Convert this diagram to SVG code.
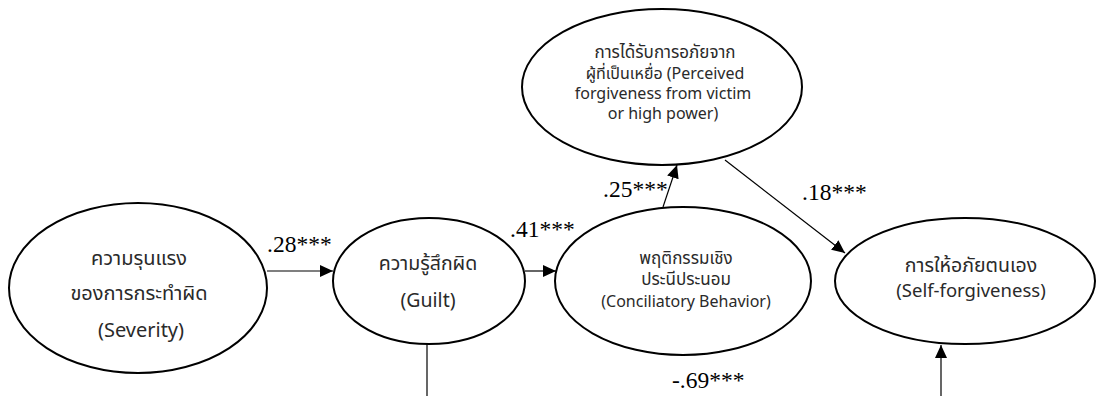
<svg xmlns="http://www.w3.org/2000/svg" width="1096" height="396" viewBox="0 0 1096 396">
<style>
.node{fill:#fff;stroke:#000;stroke-width:2}
.t{font-family:"Noto Sans Thai","Noto Sans","DejaVu Sans",sans-serif;fill:#2a2a2a;text-anchor:middle}
.lbl{font-family:"Liberation Serif","Times New Roman",serif;font-size:23.5px;fill:#000}
.edge{stroke:#000;stroke-width:1.2;fill:none}
</style>
<defs>
<marker id="ah" markerUnits="userSpaceOnUse" markerWidth="14" markerHeight="12" refX="13" refY="6" orient="auto">
<path d="M0,0 L13,6 L0,12 z" fill="#000"/>
</marker>
</defs>
<rect width="1096" height="396" fill="#fff"/>
<g id="connectors">
<line class="edge" x1="267" y1="271" x2="333" y2="271" marker-end="url(#ah)"/>
<line class="edge" x1="525" y1="271" x2="556" y2="271" marker-end="url(#ah)"/>
<line class="edge" x1="663" y1="207" x2="677" y2="165" marker-end="url(#ah)"/>
<line class="edge" x1="725" y1="160" x2="845" y2="253" marker-end="url(#ah)"/>
<line class="edge" x1="427" y1="344" x2="427" y2="396"/>
<line class="edge" x1="941" y1="396" x2="941" y2="345" marker-end="url(#ah)"/>
<text class="lbl" x="267" y="252">.28***</text>
<text class="lbl" x="510" y="237">.41***</text>
<text class="lbl" x="603" y="197">.25***</text>
<text class="lbl" x="802" y="200">.18***</text>
<text class="lbl" x="672" y="388">-.69***</text>
</g>
<g id="severity">
<ellipse class="node" cx="138" cy="288" rx="129" ry="85"/>
<text class="t" x="139" y="265" font-size="20">ความรุนแรง</text>
<text class="t" x="139" y="300" font-size="20">ของการกระทำผิด</text>
<text class="t" x="141" y="337" font-size="20">(Severity)</text>
</g>
<g id="guilt">
<ellipse class="node" cx="429" cy="281" rx="96" ry="63"/>
<text class="t" x="428" y="270" font-size="19.5">ความรู้สึกผิด</text>
<text class="t" x="428" y="307" font-size="19.5">(Guilt)</text>
</g>
<g id="conciliatory">
<ellipse class="node" cx="683" cy="281" rx="128" ry="74"/>
<text class="t" x="686" y="264" font-size="17">พฤติกรรมเชิง</text>
<text class="t" x="686" y="285" font-size="17">ประนีประนอม</text>
<text class="t" x="686" y="307" font-size="16">(Conciliatory Behavior)</text>
</g>
<g id="perceived">
<ellipse class="node" cx="662" cy="87" rx="140" ry="78"/>
<text class="t" x="665" y="58" font-size="17">การได้รับการอภัยจาก</text>
<text class="t" x="665" y="79" font-size="16">ผู้ที่เป็นเหยื่อ (Perceived</text>
<text class="t" x="663" y="99" font-size="16">forgiveness from victim</text>
<text class="t" x="663" y="119" font-size="16">or high power)</text>
</g>
<g id="selfforgiveness">
<ellipse class="node" cx="965" cy="281" rx="130" ry="63"/>
<text class="t" x="971" y="272" font-size="19.5">การให้อภัยตนเอง</text>
<text class="t" x="971" y="297" font-size="18.5">(Self-forgiveness)</text>
</g>
</svg>
